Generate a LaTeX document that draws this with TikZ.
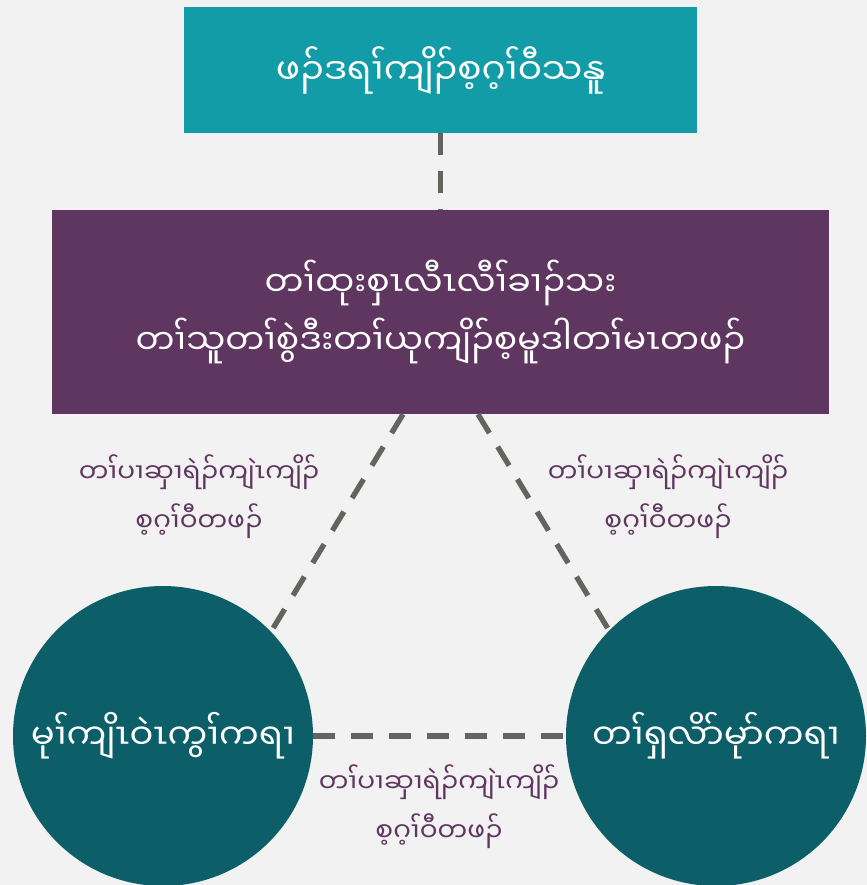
\documentclass[tikz,border=0pt]{standalone}
\usepackage{fontspec}
\usetikzlibrary{calc}
\newfontfamily\mya[Script=Myanmar]{Noto Sans Myanmar UI}
\definecolor{bgc}{HTML}{F2F2F2}
\definecolor{tealc}{HTML}{119CA8}
\definecolor{purpc}{HTML}{5F3660}
\definecolor{darkt}{HTML}{0C5F69}
\definecolor{linec}{HTML}{62645F}
\begin{document}
\begin{tikzpicture}[x=0.75pt,y=-0.75pt,
  boxsty/.style={rectangle,inner sep=0pt,text=white,align=center},
  circsty/.style={circle,fill=darkt,inner sep=0pt,minimum size=225pt,text=white,font=\mya\fontsize{26.5}{30}\selectfont},
  linksty/.style={draw=linec,line width=4pt,dash pattern=on 16.5pt off 12pt},
  lblsty/.style={text=purpc,align=center,font=\mya\fontsize{19.8}{37}\selectfont}]
\fill[bgc] (0,0) rectangle (867,885);
\useasboundingbox (0,0) rectangle (867,885);
\node[boxsty,fill=tealc,minimum width=384.75pt,minimum height=94.5pt,font=\mya\fontsize{27}{32}\selectfont] (top) at (440.5,70) {ဖၣ်ဒရၢ်ကျိၣ်စ့ဂ့ၢ်ဝီသနူ};
\node[boxsty,fill=purpc,minimum width=582.75pt,minimum height=153pt,font=\mya\fontsize{26}{44}\selectfont] (mid) at (440.5,312) {တၢ်ထုးစှၤလီၤလီၢ်ခၢၣ်သး\\တၢ်သူတၢ်စွဲဒီးတၢ်ယုကျိၣ်စ့မူဒါတၢ်မၤတဖၣ်};
\coordinate (lc) at (163,736);
\coordinate (rc) at (716,736);
\coordinate (ml) at ($(mid.south)+(-37.5,0)$);
\coordinate (mr) at ($(mid.south)+(37.5,0)$);
\coordinate (le) at ($(lc)+(109,-106)$);
\coordinate (re) at ($(rc)+(-106,-104)$);
\draw[linksty] (top.south) -- (mid.north);
\draw[linksty] (ml) -- (le);
\draw[linksty] (mr) -- (re);
\node[circsty] (left) at (lc) {မုၢ်ကျိၤဝဲၤကွၢ်ကရၢ};
\node[circsty] (right) at (rc) {တၢ်ရှလိာ်မုာ်ကရၢ};
\draw[linksty] (left.east) -- (right.west);
\node[lblsty] (l1) at (199,497) {တၢ်ပၢဆှၢရဲၣ်ကျဲၤကျိၣ်\\စ့ဂ့ၢ်ဝီတဖၣ်};
\node[lblsty] (l2) at (668,497) {တၢ်ပၢဆှၢရဲၣ်ကျဲၤကျိၣ်\\စ့ဂ့ၢ်ဝီတဖၣ်};
\node[lblsty] (l3) at (439,807) {တၢ်ပၢဆှၢရဲၣ်ကျဲၤကျိၣ်\\စ့ဂ့ၢ်ဝီတဖၣ်};
\end{tikzpicture}
\end{document}
